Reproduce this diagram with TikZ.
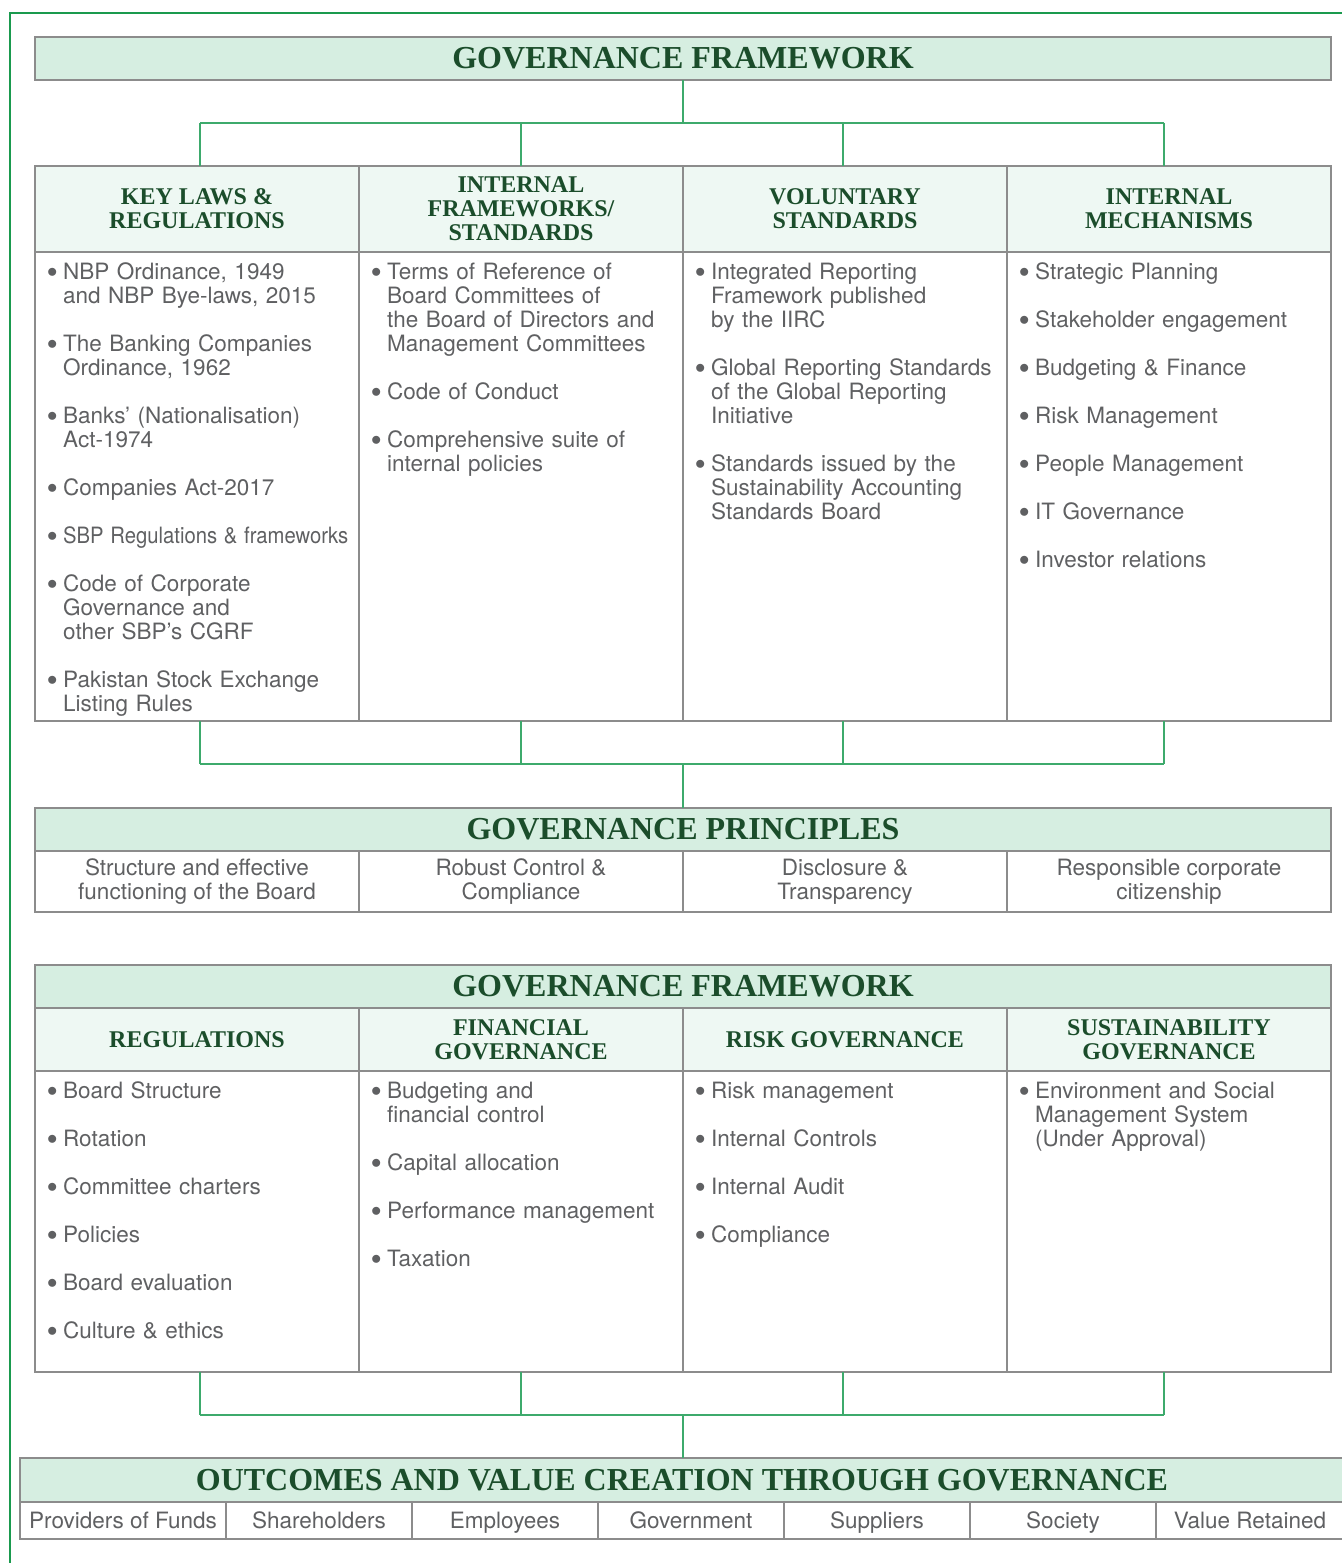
\documentclass[tikz,border=0pt]{standalone}
\usepackage{fontspec}
\usepackage{graphicx}
\setmainfont{Liberation Serif}
\newfontfamily\bodyfont{TeX Gyre Heros}
\usetikzlibrary{positioning}
\definecolor{nbpgreen}{HTML}{1A9A4E}
\definecolor{linkgreen}{HTML}{3DAA6C}
\definecolor{titlegreen}{HTML}{1B4D2B}
\definecolor{mint}{HTML}{D6EEE1}
\definecolor{palemint}{HTML}{EEF8F3}
\definecolor{cellgray}{HTML}{8C8C8C}
\definecolor{textgray}{HTML}{5F6062}
\tikzset{
	sheet/.style={x=1pt,y=-1pt,line join=miter},
	banner/.style={rectangle,draw=cellgray,fill=mint,line width=1.5pt,outer sep=0pt,
		minimum width=1296pt,minimum height=43pt,inner sep=0pt,text=titlegreen,
		font=\fontsize{32}{32}\selectfont\bfseries},
	colhead/.style={rectangle,draw=cellgray,fill=palemint,line width=1.5pt,outer sep=0pt,
		minimum width=324pt,inner sep=0pt,align=center,text=titlegreen,
		font=\fontsize{24}{24}\selectfont\bfseries},
	cell/.style={rectangle,draw=cellgray,line width=1.5pt,outer sep=0pt,
		minimum width=324pt,inner sep=0pt,align=center,text=textgray,
		font=\bodyfont\fontsize{22.5}{24}\selectfont},
	tally/.style={cell,minimum width=186pt,minimum height=37pt,text height=18pt,text depth=3pt},
	items/.style={anchor=base west,inner sep=0pt,text width=310pt,align=left,
		text=textgray,font=\bodyfont\fontsize{22.5}{24}\selectfont},
	link/.style={draw=linkgreen,line width=1.5pt},
	edge line/.style={draw=nbpgreen,line width=2.5pt}
}
\newcommand{\bitem}[1]{\hangindent=16pt\hangafter=1\noindent\makebox[16pt][l]{\raisebox{1.5pt}{$\bullet$}}#1\par\vspace{24pt}}

\begin{document}
\begin{tikzpicture}[sheet]
	\useasboundingbox (0,0) rectangle (1341,1563);
	\path[edge line] (10,1570) -- (10,13) -- (1350,13);
	
	% first framework
	\node[banner] (gf1) at (683,58.5) {GOVERNANCE FRAMEWORK};
	\node[colhead,minimum height=86pt,anchor=north west] (law) at (35,166) {KEY LAWS \&\\REGULATIONS};
	\node[colhead,minimum height=86pt] (intf) [right=0pt of law] {INTERNAL\\FRAMEWORKS/\\STANDARDS};
	\node[colhead,minimum height=86pt] (vol) [right=0pt of intf] {VOLUNTARY\\STANDARDS};
	\node[colhead,minimum height=86pt] (mech) [right=0pt of vol] {INTERNAL\\MECHANISMS};
	\node[cell,minimum height=469pt] (lawb) [below=0pt of law] {};
	\node[cell,minimum height=469pt] (intfb) [below=0pt of intf] {};
	\node[cell,minimum height=469pt] (volb) [below=0pt of vol] {};
	\node[cell,minimum height=469pt] (mechb) [below=0pt of mech] {};
	
	\node[items] (lawt) at ([xshift=12pt,yshift=-27pt]lawb.north west) {%
		\bitem{NBP Ordinance, 1949\newline and NBP Bye-laws, 2015}
		\bitem{The Banking Companies\newline Ordinance, 1962}
		\bitem{Banks’ (Nationalisation)\newline Act-1974}
		\bitem{Companies Act-2017}
		\bitem{\scalebox{0.9}[1]{SBP Regulations \& frameworks}}
		\bitem{Code of Corporate\newline Governance and\newline other SBP’s CGRF}
		\bitem{Pakistan Stock Exchange\newline Listing Rules}};
	\node[items] (intft) at ([xshift=12pt,yshift=-27pt]intfb.north west) {%
		\bitem{Terms of Reference of\newline Board Committees of\newline the Board of Directors and\newline Management Committees}
		\bitem{Code of Conduct}
		\bitem{Comprehensive suite of\newline internal policies}};
	\node[items] (volt) at ([xshift=12pt,yshift=-27pt]volb.north west) {%
		\bitem{Integrated Reporting\newline Framework published\newline by the IIRC}
		\bitem{Global Reporting Standards\newline of the Global Reporting\newline Initiative}
		\bitem{Standards issued by the\newline Sustainability Accounting\newline Standards Board}};
	\node[items] (mecht) at ([xshift=12pt,yshift=-27pt]mechb.north west) {%
		\bitem{Strategic Planning}
		\bitem{Stakeholder engagement}
		\bitem{Budgeting \& Finance}
		\bitem{Risk Management}
		\bitem{People Management}
		\bitem{IT Governance}
		\bitem{Investor relations}};
	
	% principles
	\node[banner] (gp) at (683,829.5) {GOVERNANCE PRINCIPLES};
	\node[cell,minimum height=61pt,anchor=north west] (struct) at (gp.south west) {Structure and effective\\functioning of the Board};
	\node[cell,minimum height=61pt] (ctrl) [right=0pt of struct] {Robust Control \&\\Compliance};
	\node[cell,minimum height=61pt] (discl) [right=0pt of ctrl] {Disclosure \&\\Transparency};
	\node[cell,minimum height=61pt] (citz) [right=0pt of discl] {Responsible corporate\\citizenship};
	
	% second framework
	\node[banner] (gf2) at (683,986.5) {GOVERNANCE FRAMEWORK};
	\node[colhead,minimum height=63pt,anchor=north west] (reg) at (gf2.south west) {REGULATIONS};
	\node[colhead,minimum height=63pt] (fin) [right=0pt of reg] {FINANCIAL\\GOVERNANCE};
	\node[colhead,minimum height=63pt] (risk) [right=0pt of fin] {RISK GOVERNANCE};
	\node[colhead,minimum height=63pt] (sus) [right=0pt of risk] {SUSTAINABILITY\\GOVERNANCE};
	\node[cell,minimum height=301pt] (regb) [below=0pt of reg] {};
	\node[cell,minimum height=301pt] (finb) [below=0pt of fin] {};
	\node[cell,minimum height=301pt] (riskb) [below=0pt of risk] {};
	\node[cell,minimum height=301pt] (susb) [below=0pt of sus] {};
	
	\node[items] (regt) at ([xshift=12pt,yshift=-27pt]regb.north west) {%
		\bitem{Board Structure}
		\bitem{Rotation}
		\bitem{Committee charters}
		\bitem{Policies}
		\bitem{Board evaluation}
		\bitem{Culture \& ethics}};
	\node[items] (fint) at ([xshift=12pt,yshift=-27pt]finb.north west) {%
		\bitem{Budgeting and\newline financial control}
		\bitem{Capital allocation}
		\bitem{Performance management}
		\bitem{Taxation}};
	\node[items] (riskt) at ([xshift=12pt,yshift=-27pt]riskb.north west) {%
		\bitem{Risk management}
		\bitem{Internal Controls}
		\bitem{Internal Audit}
		\bitem{Compliance}};
	\node[items] (sust) at ([xshift=12pt,yshift=-27pt]susb.north west) {%
		\bitem{Environment and Social\newline Management System\newline (Under Approval)}};
	
	% outcomes
	\node[banner,minimum width=1324pt,minimum height=44pt,anchor=north west] (oc) at (20,1458) {OUTCOMES AND VALUE CREATION THROUGH GOVERNANCE};
	\node[tally,minimum width=206pt,anchor=north west] (funds) at (oc.south west) {Providers of Funds};
	\node[tally] (share) [right=0pt of funds] {Shareholders};
	\node[tally] (empl) [right=0pt of share] {Employees};
	\node[tally] (govt) [right=0pt of empl] {Government};
	\node[tally] (supp) [right=0pt of govt] {Suppliers};
	\node[tally] (soc) [right=0pt of supp] {Society};
	\node[tally,minimum width=188pt] (retd) [right=0pt of soc] {Value Retained};
	
	% connectors
	\coordinate (tj) at (683,123);
	\coordinate (tl) at (200,123);
	\coordinate (tr) at (1164,123);
	\path[link] (gf1.south) edge (tj)
		(tl) edge (tr)
		(tl) edge (tl |- law.north)
		(tj -| intf.north) edge (intf.north)
		(843,123) edge (843,166)
		(tr) edge (tr |- mech.north);
	
	\coordinate (mj) at (683,764);
	\coordinate (ml) at (200,764);
	\coordinate (mr) at (1164,764);
	\path[link] (ml |- lawb.south) edge (ml)
		(intfb.south) edge (intfb.south |- mj)
		(843,721) edge (843,764)
		(mr |- mechb.south) edge (mr)
		(ml) edge (mr)
		(mj) edge (gp.north);
	
	\coordinate (bj) at (683,1415);
	\coordinate (bl) at (200,1415);
	\coordinate (br) at (1164,1415);
	\path[link] (bl |- regb.south) edge (bl)
		(finb.south) edge (finb.south |- bj)
		(843,1372) edge (843,1415)
		(br |- susb.south) edge (br)
		(bl) edge (br)
		(bj) edge (bj |- oc.north);
	
\end{tikzpicture}
\end{document}
